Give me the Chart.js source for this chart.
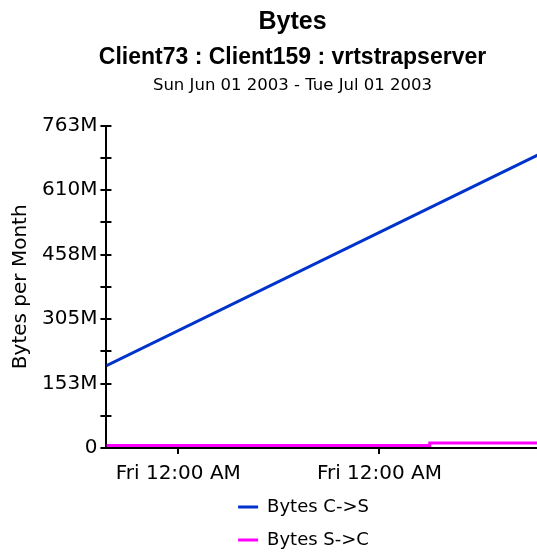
<!DOCTYPE html>
<html>
<head>
<meta charset="utf-8">
<script src="https://cdn.jsdelivr.net/npm/chart.js@4.4.0/dist/chart.umd.min.js"></script>
<style>
html, body { margin: 0; padding: 0; background: #fff; overflow: hidden; }
#wrap { width: 537px; height: 556px; overflow: hidden; }
</style>
</head>
<body>
<div id="wrap"><canvas id="bytes" width="585" height="556"></canvas></div>
<script>
const titleText = 'Bytes'
const subtitleText = 'Client73 : Client159 : vrtstrapserver'
const dateRange = 'Sun Jun 01 2003 - Tue Jul 01 2003'

// x = days since Sun Jun 01 2003, y = millions of bytes
const daysCS = [0, 30]
const bytesCS = [195, 693]
const daysSC = [0, 22.5, 30]
const bytesSC = [6, 12, 12]

const seriesNames = ['Bytes C->S', 'Bytes S->C']
const seriesColors = ['#0033cc', '#ff00ff']

// the original picture is cut off a little after Jul 01
const xWindowMax = 33.3
const xTickDays = [5, 19]
const xTickLabels = ['Fri 12:00 AM', 'Fri 12:00 AM']
const yTickValues = [0, 152.6, 305.2, 457.8, 610.4, 763]
const yTickLabels = ['0', '153M', '305M', '458M', '610M', '763M']
const yMinorValues = [76.3, 228.9, 381.5, 534.1, 686.7]

const toPoints = (xs, ys) => xs.map((x, i) => ({x: x, y: ys[i]}))

const extras = {
    id: 'extras',
    beforeLayout(chart) {
        // stack the legend items in one column
        const lg = chart.legend
        if (lg && !lg._oneColumn) {
            const fit = lg.fit
            lg.fit = function () {
                const mw = this.maxWidth
                this.maxWidth = 200
                fit.call(this)
                this.maxWidth = mw
            }
            lg._oneColumn = true
        }
    },
    afterLayout(chart) {
        // narrow legend box, a bit right of the titles like the original
        const lg = chart.legend
        const c = chart.width / 2 + 11
        lg.left = c - 100
        lg.right = c + 100
    },
    afterDatasetsDraw(chart) {
        const ys = chart.scales.y
        const a = chart.chartArea
        const ctx = chart.ctx
        ctx.save()
        ctx.strokeStyle = '#000'
        ctx.lineWidth = 2
        ys.ticks.forEach((t, i) => {
            const py = Math.round(ys.getPixelForTick(i))
            ctx.beginPath()
            ctx.moveTo(a.left - 6, py)
            ctx.lineTo(a.left + 5, py)
            ctx.stroke()
        })
        ctx.restore()
    },
    afterDraw(chart) {
        const ctx = chart.ctx
        ctx.save()
        ctx.font = '16.5px "DejaVu Sans"'
        ctx.fillStyle = '#000'
        ctx.textAlign = 'center'
        ctx.textBaseline = 'middle'
        ctx.fillText(dateRange, chart.width / 2, chart.chartArea.top - 40)
        ctx.restore()
    }
}

const ctx = document.getElementById('bytes').getContext('2d')
const bytesChart = new Chart(ctx, {
    type: 'line',
    data: {
        datasets: [{
            label: seriesNames[0],
            data: toPoints(daysCS, bytesCS),
            borderColor: seriesColors[0],
            backgroundColor: seriesColors[0],
            borderWidth: 3,
            pointRadius: 0
        }, {
            label: seriesNames[1],
            data: toPoints(daysSC, bytesSC),
            borderColor: seriesColors[1],
            backgroundColor: seriesColors[1],
            borderWidth: 3,
            pointRadius: 0,
            stepped: 'before'
        }]
    },
    plugins: [extras],
    options: {
        responsive: false,
        animation: false,
        layout: {
            padding: {left: 0, right: 0, top: 0, bottom: -3}
        },
        plugins: {
            title: {
                display: true,
                text: titleText,
                color: '#000',
                font: {family: '"Liberation Sans", Arial', size: 25, weight: 'bold'},
                padding: {top: 7, bottom: 7}
            },
            subtitle: {
                display: true,
                text: subtitleText,
                color: '#000',
                font: {family: '"Liberation Sans", Arial', size: 23, weight: 'bold'},
                padding: {top: 0, bottom: 54}
            },
            legend: {
                position: 'bottom',
                labels: {
                    color: '#000',
                    font: {family: '"DejaVu Sans"', size: 18},
                    usePointStyle: true,
                    pointStyle: 'line',
                    pointStyleWidth: 20,
                    padding: 15
                }
            },
            tooltip: {enabled: false}
        },
        scales: {
            x: {
                type: 'linear',
                min: 0,
                max: xWindowMax,
                afterBuildTicks: scale => { scale.ticks = xTickDays.map(v => ({value: v})) },
                afterFit: scale => { scale.height = 35 },
                ticks: {
                    color: '#000',
                    font: {family: '"DejaVu Sans"', size: 20},
                    padding: 8,
                    maxRotation: 0,
                    callback: (v, i) => xTickLabels[i]
                },
                grid: {drawOnChartArea: false, color: '#000', lineWidth: 2, tickLength: 6},
                border: {color: '#000', width: 2}
            },
            y: {
                min: 0,
                max: 763,
                afterBuildTicks: scale => {
                    scale.ticks = yTickValues.concat(yMinorValues).sort((p, q) => p - q).map(v => ({value: v}))
                },
                ticks: {
                    color: '#000',
                    font: {family: '"DejaVu Sans"', size: 20},
                    padding: 9,
                    autoSkip: false,
                    callback: v => {
                        const k = yTickValues.indexOf(v)
                        return k >= 0 ? yTickLabels[k] : ''
                    }
                },
                grid: {drawOnChartArea: false, drawTicks: false},
                border: {color: '#000', width: 2},
                title: {
                    display: true,
                    text: 'Bytes per Month',
                    color: '#000',
                    font: {family: '"DejaVu Sans"', size: 20},
                    padding: {top: 9, bottom: 0}
                }
            }
        }
    }
})
</script>
</body>
</html>
